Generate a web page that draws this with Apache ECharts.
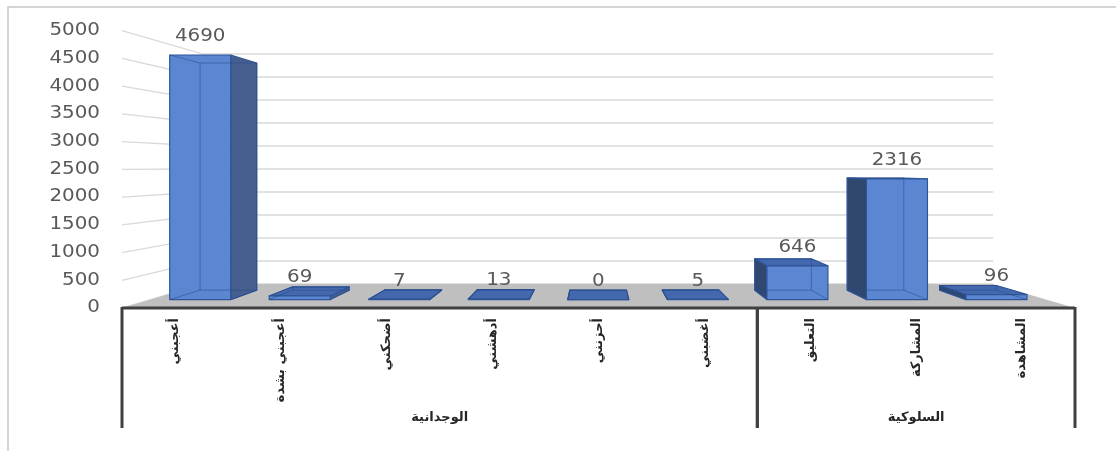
<!DOCTYPE html>
<html>
<head>
<meta charset="utf-8">
<script src="https://cdn.jsdelivr.net/npm/echarts@6/dist/echarts.min.js"></script>
<style>
  html, body { margin: 0; padding: 0; background: #ffffff; }
  #chart { width: 1116px; height: 451px; }
</style>
</head>
<body>
<div id="chart"></div>
<script>
// Reaction counts per category, grouped into two families
const categories = ['أعجبني', 'أعجبني بشدة', 'أضحكني', 'أدهشني', 'أحزنني', 'أغضبني', 'التعليق', 'المشاركة', 'المشاهدة'];
const values = [4690, 69, 7, 13, 0, 5, 646, 2316, 96];
const groupNames = ['الوجدانية', 'السلوكية'];
const groupSizes = [6, 3];
const yTicks = [0, 500, 1000, 1500, 2000, 2500, 3000, 3500, 4000, 4500, 5000];

// Simple perspective: the cartesian grid is the front plane, deeper planes
// are scaled toward a vanishing point.
const VP = [596, 167.5];
const K_WALL = 0.829;      // back wall
const K_BAR_BACK = 0.873;  // back face of the bars
const K_BAR_FRONT = 0.940; // front face of the bars
const BAR_RATIO = 0.613;   // bar width relative to category band
const NUM_FONT = '17px "DejaVu Sans", sans-serif';
const NUM_STRETCH = 1.17;  // wide numerals

const COLORS = {
  front: '#5b87d2',
  sideRight: '#465f8e',
  sideLeft: '#30476f',
  top: '#4468ad',
  edge: '#2f5597',
  inner: 'rgba(40,75,140,0.55)',
  grid: '#d9d9d9',
  floor: '#bfbfbf',
  axis: '#404040',
  text: '#595959',
  catText: '#262626'
};

function project(pt, k) {
  return [VP[0] + k * (pt[0] - VP[0]), VP[1] + k * (pt[1] - VP[1])];
}

function band(api) {
  return api.size([1, 0])[0];
}

function numberText(str, x, y, align) {
  return {
    type: 'text',
    x: x, y: y,
    scaleX: NUM_STRETCH,
    style: {
      text: str, x: 0, y: 0,
      align: align, verticalAlign: 'middle',
      fill: COLORS.text, font: NUM_FONT
    }
  };
}

// Back wall + left wall gridlines, with the value tick labels
function renderGrid(params, api) {
  const v = api.value(0);
  const bw = band(api);
  const first = api.coord([0, v]);
  const last = api.coord([categories.length - 1, v]);
  const fl = [first[0] - bw / 2, first[1]];
  const fr = [last[0] + bw / 2, last[1]];
  const bl = project(fl, K_WALL);
  const br = project(fr, K_WALL);
  return {
    type: 'group',
    children: [
      {
        type: 'polyline',
        shape: { points: [fl, bl, br] },
        style: { stroke: COLORS.grid, lineWidth: 1.3, fill: null }
      },
      numberText(String(v), fl[0] - 22, fl[1], 'right')
    ]
  };
}

// Floor slab
function renderFloor(params, api) {
  const bw = band(api);
  const first = api.coord([0, 0]);
  const last = api.coord([categories.length - 1, 0]);
  const fl = [first[0] - bw / 2, first[1]];
  const fr = [last[0] + bw / 2, last[1]];
  return {
    type: 'polygon',
    shape: { points: [fl, fr, project(fr, K_WALL), project(fl, K_WALL)] },
    style: { fill: COLORS.floor }
  };
}

// 3D bar: visible side, top and front faces plus see-through back edges
function renderBar(params, api) {
  const i = api.value(0);
  const v = api.value(1);
  const bw = band(api);
  const hw = bw * BAR_RATIO / 2;
  const t = api.coord([i, v]);
  const b = api.coord([i, 0]);
  const box = (k) => ({
    tl: project([t[0] - hw, t[1]], k),
    tr: project([t[0] + hw, t[1]], k),
    bl: project([b[0] - hw, b[1]], k),
    br: project([b[0] + hw, b[1]], k)
  });
  const F = box(K_BAR_FRONT);
  const B = box(K_BAR_BACK);
  const edgeStyle = { stroke: COLORS.edge, lineWidth: 1.2, lineJoin: 'round' };
  const children = [];

  const rightVisible = t[0] < VP[0];
  const side = rightVisible ? [F.tr, B.tr, B.br, F.br] : [F.tl, B.tl, B.bl, F.bl];
  children.push({
    type: 'polygon', shape: { points: side },
    style: Object.assign({ fill: rightVisible ? COLORS.sideRight : COLORS.sideLeft }, edgeStyle)
  });
  if (F.tl[1] > B.tl[1]) {
    children.push({
      type: 'polygon', shape: { points: [F.tl, F.tr, B.tr, B.tl] },
      style: Object.assign({ fill: COLORS.top }, edgeStyle)
    });
  }
  children.push({
    type: 'polygon', shape: { points: [F.tl, F.tr, F.br, F.bl] },
    style: Object.assign({ fill: COLORS.front }, edgeStyle)
  });
  // back edges seen through the translucent faces
  const innerStyle = { stroke: COLORS.inner, lineWidth: 1, fill: null };
  children.push({ type: 'polyline', shape: { points: [B.tl, B.tr, B.br, B.bl, B.tl] }, style: innerStyle });
  children.push({ type: 'line', shape: { x1: F.tl[0], y1: F.tl[1], x2: B.tl[0], y2: B.tl[1] }, style: innerStyle });
  children.push({ type: 'line', shape: { x1: F.bl[0], y1: F.bl[1], x2: B.bl[0], y2: B.bl[1] }, style: innerStyle });
  children.push({ type: 'line', shape: { x1: F.br[0], y1: F.br[1], x2: B.br[0], y2: B.br[1] }, style: innerStyle });
  // value label above the front top edge
  children.push(numberText(String(v), (F.tl[0] + F.tr[0]) / 2, F.tl[1] - 18, 'center'));
  return { type: 'group', children: children };
}

// Category axis line, group separators and group titles
const groupStarts = groupSizes.map((n, g) => groupSizes.slice(0, g).reduce((a, c) => a + c, 0));
function renderGroups(params, api) {
  const g = params.dataIndex;
  const start = groupStarts[g];
  const end = start + groupSizes[g] - 1;
  const bw = band(api);
  const a = api.coord([start, 0]);
  const z = api.coord([end, 0]);
  const x1 = a[0] - bw / 2;
  const x2 = z[0] + bw / 2;
  const y0 = a[1];
  const lineStyle = { stroke: COLORS.axis, lineWidth: 3 };
  return {
    type: 'group',
    children: [
      { type: 'line', shape: { x1: x1, y1: y0, x2: x2, y2: y0 }, style: lineStyle },
      { type: 'line', shape: { x1: x1, y1: y0 - 1, x2: x1, y2: y0 + 120 }, style: lineStyle },
      { type: 'line', shape: { x1: x2, y1: y0 - 1, x2: x2, y2: y0 + 120 }, style: lineStyle },
      {
        type: 'text',
        style: {
          text: groupNames[g],
          x: (x1 + x2) / 2,
          y: y0 + 110,
          align: 'center',
          verticalAlign: 'middle',
          fill: COLORS.catText,
          font: 'bold 13px "DejaVu Sans", sans-serif'
        }
      }
    ]
  };
}

const chart = echarts.init(document.getElementById('chart'), null, { renderer: 'canvas' });
chart.setOption({
  animation: false,
  backgroundColor: '#ffffff',
  graphic: [{
    type: 'rect',
    shape: { x: 8, y: 7, width: 1200, height: 500 },
    style: { fill: null, stroke: '#c8c8c8', lineWidth: 1.5 },
    silent: true,
    z: 0
  }],
  grid: { left: 122, right: 41, top: 30.6, bottom: 143, containLabel: false },
  xAxis: {
    type: 'category',
    data: categories,
    axisLine: { show: false },
    axisTick: { show: false },
    splitLine: { show: false },
    axisLabel: {
      interval: 0,
      rotate: 90,
      margin: 10,
      color: COLORS.catText,
      fontSize: 13,
      fontWeight: 'bold',
      fontFamily: '"DejaVu Sans", sans-serif'
    }
  },
  yAxis: {
    type: 'value',
    min: 0,
    max: 5000,
    interval: 500,
    axisLine: { show: false },
    axisTick: { show: false },
    splitLine: { show: false },
    axisLabel: { show: false }
  },
  series: [
    {
      type: 'custom', name: 'grid', z: 1, silent: true, clip: false,
      data: yTicks.map(v => [v]),
      encode: { y: 0 },
      renderItem: renderGrid
    },
    {
      type: 'custom', name: 'floor', z: 2, silent: true, clip: false,
      data: [[0]],
      renderItem: renderFloor
    },
    {
      type: 'custom', name: 'bars', z: 3, clip: false,
      data: values.map((v, i) => [i, v]),
      encode: { x: 0, y: 1 },
      renderItem: renderBar
    },
    {
      type: 'custom', name: 'groups', z: 4, silent: true, clip: false,
      data: groupNames.map((n, g) => [groupStarts[g]]),
      renderItem: renderGroups
    }
  ]
});
</script>
</body>
</html>
